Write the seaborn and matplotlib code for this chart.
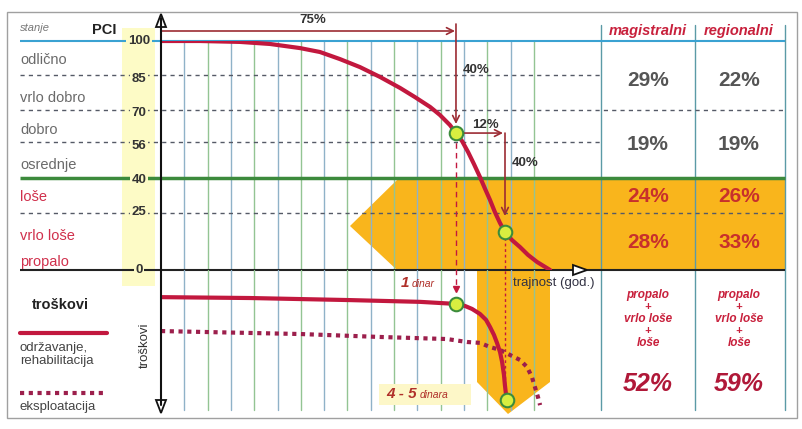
import matplotlib
matplotlib.use("Agg")
import matplotlib.pyplot as plt
import seaborn as sns
import numpy as np
from matplotlib.patches import Polygon, Rectangle

# ---------------- data ----------------
pci_levels = [100, 85, 70, 56, 40, 25, 0]
pci_tick_labels = ["100", "85", "70", "56", "40", "25", "0"]
state_labels = ["odlično", "vrlo dobro", "dobro", "osrednje", "loše", "vrlo loše", "propalo"]

# PCI deterioration curve (x = time in grid units, y = PCI)
life_x = [0, 1.67, 3.39, 4.68, 5.97, 6.82, 7.68, 8.54, 9.40, 10.26, 10.90, 11.55, 11.97,
          12.40, 12.66, 12.92, 13.18, 13.43, 13.69, 13.91, 14.12, 14.33, 14.55, 14.76,
          15.06, 15.41, 15.75, 16.14, 16.70]
life_pci = [100, 100, 99.6, 98.7, 96.9, 95.2, 92.1, 88.6, 84.3, 79.5, 75.5, 71.2, 67.7,
            63.3, 59.8, 56.3, 51.5, 46.3, 40.6, 35.4, 30.6, 25.3, 20.5, 16.6,
            13.1, 10.0, 6.6, 3.5, 0]
key_x = [12.66, 14.76]
key_pci = [59.8, 16.6]

# cost curves (x = time, y = relative cost, increasing downwards)
maint_x = [0, 3.82, 8.11, 11.12, 12.66, 13.05, 13.35, 13.69, 13.95, 14.12, 14.29, 14.42,
           14.55, 14.64, 14.72, 14.76, 14.81, 14.85]
maint_c = [0.92, 0.95, 1.02, 1.08, 1.15, 1.22, 1.32, 1.49, 1.69, 1.93, 2.20, 2.47,
           2.78, 3.12, 3.56, 3.90, 4.24, 4.41]
key_cost_x = [12.66, 14.85]
key_cost = [1.15, 4.41]
expl_x = [0, 5.97, 9.40, 12.27, 13.13, 13.69, 14.12, 14.55, 14.98, 15.41, 15.71, 15.92,
          16.05, 16.18, 16.27]
expl_c = [2.07, 2.17, 2.27, 2.34, 2.44, 2.47, 2.61, 2.71, 2.88, 3.05, 3.29, 3.63,
          3.97, 4.31, 4.58]

columns = ["magistralni", "regionalni"]
share_good = [29, 22]        # odlično + vrlo dobro
share_fair = [19, 19]        # dobro + osrednje
share_poor = [24, 26]        # loše
share_bad = [28, 33]         # vrlo loše + propalo
share_sum = [52, 59]         # propalo + vrlo loše + loše

# ---------------- layout ----------------
W, H = 803, 429
sns.set_theme(style="white")
plt.rcParams["font.family"] = ["Liberation Sans", "DejaVu Sans"]

fig = plt.figure(figsize=(W / 100, H / 100), dpi=100)
fig.patch.set_facecolor("white")

def fx(x):
    return x / W

def fy(y):
    return 1 - y / H

X0, XS = 161, 23.3      # px of time 0, px per grid unit
Y0, YS = 270, 2.29      # px of PCI 0, px per PCI unit
CS = 29.5               # px per cost unit
RIGHT = 785
BOT = 418

def dx(px):
    return (px - X0) / XS

def dp(py):
    return (Y0 - py) / YS

RED = "#c2183e"
DOT = "#9c1f4c"
BROWN = "#9c2c34"
ORANGE = "#f9b51c"

bg = fig.add_axes([0, 0, 1, 1])
bg.set_xlim(0, W)
bg.set_ylim(H, 0)
bg.axis("off")
bg.set_zorder(0)

ax = fig.add_axes([fx(X0), fy(Y0), (RIGHT - X0) / W, (100 * YS) / H])
ax.set_xlim(0, (RIGHT - X0) / XS)
ax.set_ylim(0, 100)
ax.axis("off")
ax.patch.set_alpha(0)
ax.set_zorder(1)

ax2 = fig.add_axes([fx(X0), fy(BOT), (RIGHT - X0) / W, (BOT - Y0) / H])
ax2.set_xlim(0, (RIGHT - X0) / XS)
ax2.set_ylim((BOT - Y0) / CS, 0)
ax2.axis("off")
ax2.patch.set_alpha(0)
ax2.set_zorder(1)

fg = fig.add_axes([0, 0, 1, 1])
fg.set_xlim(0, W)
fg.set_ylim(H, 0)
fg.axis("off")
fg.patch.set_alpha(0)
fg.set_zorder(2)

# ---------------- background decorations ----------------
bg.add_patch(Rectangle((7, 12), 790, 406, fill=False, edgecolor="#a0a0a0", lw=1))
bg.add_patch(Rectangle((122, 28), 33, 258, facecolor="#fdfbc6", edgecolor="none"))
bg.add_patch(Polygon([(350, 226), (397, 180), (RIGHT, 180), (RIGHT, 270), (397, 270)],
                     closed=True, facecolor=ORANGE, edgecolor="none"))
bg.add_patch(Polygon([(477, 270), (550, 270), (550, 382), (508, 414), (477, 382)],
                     closed=True, facecolor=ORANGE, edgecolor="none"))

# table column lines
for tx in [601, 695, 785]:
    bg.plot([tx, tx], [25, 410], color="#5b9aa6", lw=1)

# ---------------- grid ----------------
for k in range(1, 17):
    c = "#8fb2c8" if k % 2 else "#93c493"
    ax.axvline(k, color=c, lw=1, zorder=1)
    ax2.axvline(k, ymin=(BOT - 410) / (BOT - Y0), color=c, lw=1, zorder=1)

# ---------------- level lines ----------------
xl = dx(20)
xr = dx(RIGHT)
xt = dx(601)
ax.hlines(100, xl, xr, color="#3aa2d2", lw=1.5, clip_on=False, zorder=2)
ax.hlines([85, 56], xl, xt, color="#555a66", lw=1, linestyles=(0, (3, 3)), clip_on=False, zorder=2)
ax.hlines([70, 25], xl, xr, color="#555a66", lw=1, linestyles=(0, (3, 3)), clip_on=False, zorder=2)
ax.hlines(40, xl, xr, color="#3c8a3c", lw=2.5, clip_on=False, zorder=2)
ax.hlines(0, xl, xr, color="#222222", lw=1.5, clip_on=False, zorder=2)

# ---------------- curves ----------------
sns.lineplot(x=life_x, y=life_pci, ax=ax, color=RED, lw=3, zorder=4)
sns.lineplot(x=maint_x, y=maint_c, ax=ax2, color=RED, lw=3, zorder=4)
sns.lineplot(x=expl_x, y=expl_c, ax=ax2, color=DOT, lw=3,
             linestyle=(0, (1, 1.1)), zorder=3)

# guide verticals
ax.plot([key_x[0], key_x[0]], [key_pci[0], dp(288)], color=RED, lw=1,
        ls=(0, (4, 3)), clip_on=False, zorder=3)
ax.plot([key_x[0]], [dp(289)], marker="v", color=RED, ms=5, clip_on=False, zorder=3)
ax.plot([key_x[1], key_x[1]], [key_pci[1], dp(402)], color=RED, lw=1,
        ls=(0, (2, 2)), clip_on=False, zorder=3)

# arrows 75%, 40%, 12%, 40%
ap = dict(arrowstyle="->", color=BROWN, lw=1.2, shrinkA=0, shrinkB=0)
ax.annotate("", xy=(dx(455), dp(31)), xytext=(0, dp(31)), arrowprops=ap, annotation_clip=False)
ax.annotate("", xy=(key_x[0], dp(124)), xytext=(key_x[0], dp(24)), arrowprops=ap, annotation_clip=False)
ax.annotate("", xy=(dx(503), key_pci[0]), xytext=(key_x[0], key_pci[0]), arrowprops=ap, annotation_clip=False)
ax.annotate("", xy=(dx(505), dp(216)), xytext=(dx(505), key_pci[0]), arrowprops=ap, annotation_clip=False)

# key points
sns.scatterplot(x=key_x, y=key_pci, ax=ax, s=95, color="#d8ee40", edgecolor="#3c8c3c",
                linewidth=1.5, zorder=6, clip_on=False)
sns.scatterplot(x=key_cost_x, y=key_cost, ax=ax2, s=95, color="#d8ee40", edgecolor="#3c8c3c",
                linewidth=1.5, zorder=6, clip_on=False)

# ---------------- axes lines & hollow arrows ----------------
fg.plot([X0, X0], [18, 405], color="#111111", lw=1.5)
fg.add_patch(Polygon([(X0, 14), (X0 - 5, 27), (X0 + 5, 27)], closed=True,
                     facecolor="white", edgecolor="#111111", lw=1.3))
fg.add_patch(Polygon([(X0, 413), (X0 - 5, 400), (X0 + 5, 400)], closed=True,
                     facecolor="white", edgecolor="#111111", lw=1.3))
fg.add_patch(Polygon([(587, 270), (573, 265), (573, 275)], closed=True,
                     facecolor="white", edgecolor="#111111", lw=1.3))
# label box for "4 - 5 dinara"
fg.add_patch(Rectangle((379, 384), 92, 21, facecolor="#fdf7c8", edgecolor="none"))

# legend samples
fg.plot([20, 107], [333, 333], color=RED, lw=3)
fg.plot([20, 107], [393, 393], color=DOT, lw=3, ls=(0, (1, 1.1)))

# ---------------- text ----------------
def T(x, y, s, **kw):
    kw.setdefault("ha", "left")
    kw.setdefault("va", "center")
    return fig.text(fx(x), fy(y), s, **kw)

T(20, 28, "stanje", fontsize=8, style="italic", color="#777777")
T(92, 30, "PCI", fontsize=10.5, weight="bold", color="#222222")

tick_y = [41, 79, 113, 146, 180, 212, 270]
for lab, yy in zip(pci_tick_labels, tick_y):
    T(139, yy, lab, fontsize=9.5, weight="bold", color="#333333", ha="center",
      bbox=dict(facecolor="#fdfbc6", edgecolor="none", pad=1.2))

state_y = [60, 98, 130, 165, 197, 236, 262]
state_c = ["#6a6a6a"] * 4 + ["#d0304c"] * 3
for lab, yy, cc in zip(state_labels, state_y, state_c):
    T(20, yy, lab, fontsize=10.5, color=cc)

T(32, 305, "troškovi", fontsize=10.5, weight="bold", color="#222222")
T(20, 348, "održavanje,", fontsize=9.5, color="#444444")
T(20, 361, "rehabilitacija", fontsize=9.5, color="#444444")
T(20, 407, "eksploatacija", fontsize=9.5, color="#444444")
T(145, 345, "troškovi", fontsize=9.5, color="#333333", rotation=90, ha="center")

T(313, 20, "75%", fontsize=9.5, weight="bold", color="#333333", ha="center")
T(476, 70, "40%", fontsize=9.5, weight="bold", color="#333333", ha="center")
T(485, 125, "12%", fontsize=9.5, weight="bold", color="#333333", ha="center")
T(525, 163, "40%", fontsize=9.5, weight="bold", color="#333333", ha="center")
T(513, 283, "trajnost (god.)", fontsize=9.5, color="#333344")

T(401, 283, "1", fontsize=11, weight="bold", style="italic", color="#b0302a")
T(412, 284, "dinar", fontsize=7.5, style="italic", color="#b0302a")
T(386, 394, "4 - 5", fontsize=11, weight="bold", style="italic", color="#b0302a")
T(420, 395, "dinara", fontsize=7.5, style="italic", color="#b0302a")

# table
col_x = [648, 739]
for cx, name, a, b, c, d, s in zip(col_x, columns, share_good, share_fair,
                                   share_poor, share_bad, share_sum):
    T(cx, 31, name, fontsize=10.5, weight="bold", style="italic", color="#c8203c", ha="center")
    T(cx, 80, f"{a}%", fontsize=15, weight="bold", color="#555555", ha="center")
    T(cx, 144, f"{b}%", fontsize=15, weight="bold", color="#555555", ha="center")
    T(cx, 196, f"{c}%", fontsize=15, weight="bold", color="#c8302c", ha="center")
    T(cx, 243, f"{d}%", fontsize=15, weight="bold", color="#c8302c", ha="center")
    for yy, ln, fs in zip([295, 307, 319, 331, 343],
                          ["propalo", "+", "vrlo loše", "+", "loše"],
                          [8.5, 8, 8.5, 8, 8.5]):
        T(cx, yy, ln, fontsize=fs, weight="bold", style="italic", color="#c8203c", ha="center")
    T(cx, 384, f"{s}%", fontsize=18, weight="bold", style="italic", color="#b01838", ha="center")

fig.savefig("out.png", dpi=100)
